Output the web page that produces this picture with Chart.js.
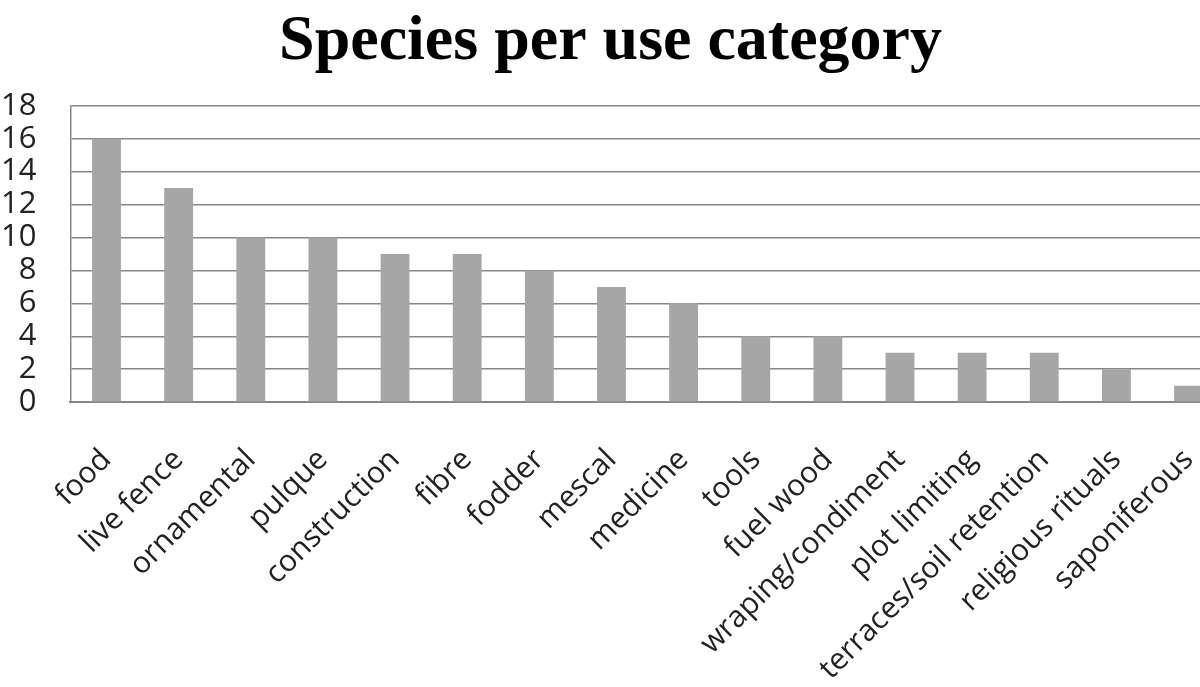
<!DOCTYPE html>
<html>
<head>
<meta charset="utf-8">
<script src="https://cdn.jsdelivr.net/npm/chart.js@4"></script>
<style>
  html, body { margin: 0; padding: 0; background: #fff; overflow: hidden; }
  #wrap { position: absolute; left: -33px; top: 0; width: 1287px; height: 727px; }
</style>
</head>
<body>
<div id="wrap"><canvas id="chart"></canvas></div>
<script>
// use categories and number of species
const categories = ['food', 'live fence', 'ornamental', 'pulque', 'construction', 'fibre', 'fodder',
  'mescal', 'medicine', 'tools', 'fuel wood', 'wraping/condiment', 'plot limiting',
  'terraces/soil retention', 'religious rituals', 'saponiferous']
const species = [16, 13, 10, 10, 9, 9, 8, 7, 6, 4, 4, 3, 3, 3, 2, 1]
const yTicks = [0, 2, 4, 6, 8, 10, 12, 14, 16, 18]

const ctx = document.getElementById('chart')
new Chart(ctx, {
  type: 'bar',
  data: {
    labels: categories,
    datasets: [{
      label: 'Species',
      data: species,
      backgroundColor: '#a6a6a6',
      borderWidth: 0,
      categoryPercentage: 1,
      barPercentage: 0.4
    }]
  },
  options: {
    responsive: true,
    maintainAspectRatio: false,
    animation: false,
    layout: { padding: { left: 0, right: 0, top: 4, bottom: 0 } },
    plugins: {
      legend: { display: false },
      tooltip: { enabled: false },
      title: {
        display: true,
        text: 'Species per use category',
        color: '#000',
        font: { family: '"Liberation Serif", "Times New Roman", serif', size: 64, weight: 'bold' },
        padding: { top: 0, bottom: 25 }
      }
    },
    scales: {
      y: {
        min: 0,
        max: 18,
        afterBuildTicks: axis => { axis.ticks = yTicks.map(v => ({ value: v })) },
        grid: { color: '#878787', lineWidth: 1.5, drawTicks: false },
        border: { display: true, color: '#878787', width: 1.5 },
        ticks: {
          color: '#222',
          autoSkip: false,
          padding: 34,
          font: { family: '"Open Sans", sans-serif', size: 31 }
        }
      },
      x: {
        grid: { display: false, drawTicks: false },
        border: { display: true, color: '#878787', width: 2 },
        ticks: {
          color: '#222',
          minRotation: 45,
          maxRotation: 45,
          autoSkip: false,
          padding: 40,
          font: { family: '"Open Sans", sans-serif', size: 30 }
        }
      }
    }
  }
})
</script>
</body>
</html>
